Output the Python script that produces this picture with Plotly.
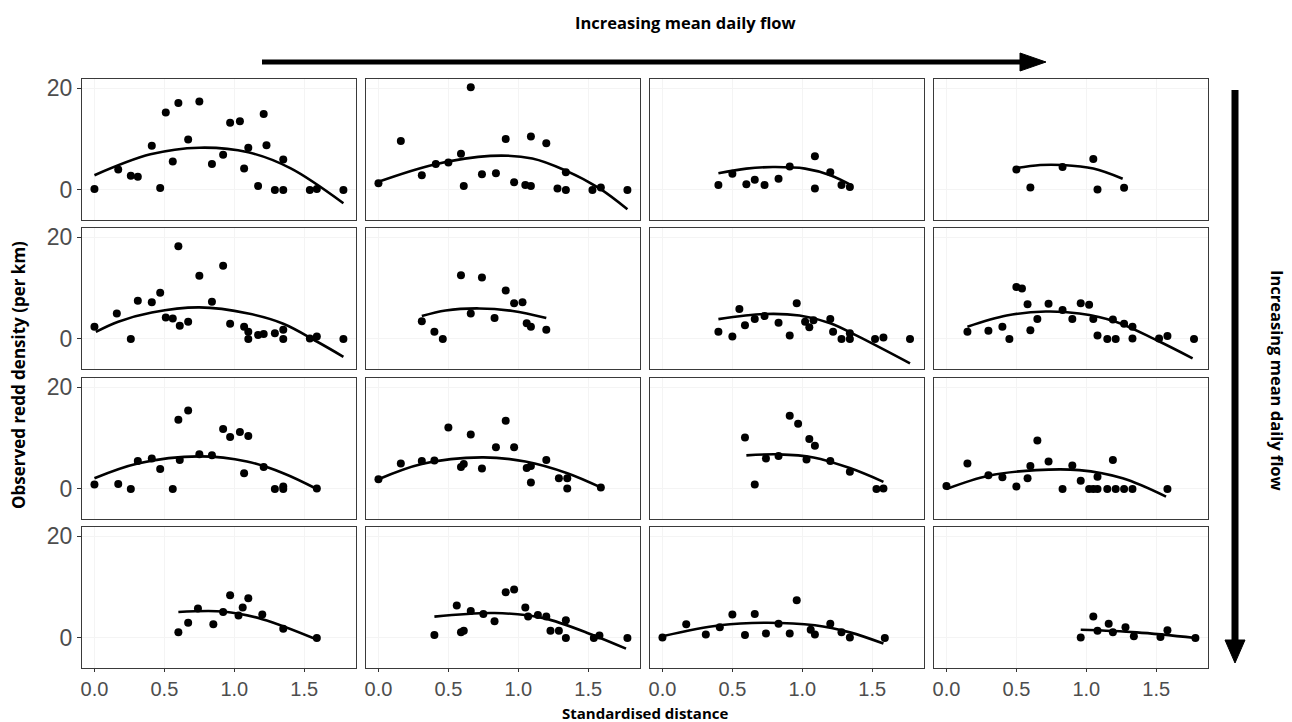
import plotly.graph_objects as go
from plotly.subplots import make_subplots

# ---------------- data ----------------
# Row 1
x_r1c1 = [0.0, 0.17, 0.26, 0.31, 0.41, 0.47, 0.51, 0.56, 0.60, 0.67, 0.75, 0.84, 0.92, 0.97, 1.04, 1.10, 1.07, 1.17, 1.21, 1.23, 1.35, 1.29, 1.35, 1.54, 1.59, 1.78]
y_r1c1 = [0.2, 4.0, 2.8, 2.6, 8.7, 0.4, 15.2, 5.6, 17.1, 9.9, 17.4, 5.1, 6.9, 13.2, 13.5, 8.3, 4.2, 0.8, 14.9, 8.8, 6.0, 0.0, 0.0, 0.0, 0.2, 0.0]
fx_r1c1 = [0.0, 0.4, 0.75, 1.1, 1.4, 1.78]
fy_r1c1 = [2.9, 7.0, 8.3, 7.4, 4.3, -2.6]

x_r1c2 = [0.0, 0.16, 0.31, 0.41, 0.50, 0.59, 0.61, 0.66, 0.74, 0.84, 0.91, 0.97, 1.05, 1.09, 1.09, 1.20, 1.28, 1.34, 1.34, 1.53, 1.59, 1.78]
y_r1c2 = [1.3, 9.6, 2.9, 5.1, 5.4, 7.1, 0.8, 20.2, 3.1, 3.3, 10.0, 1.5, 1.0, 0.8, 10.5, 9.2, 0.3, 0.0, 3.5, 0.0, 0.5, 0.0]
fx_r1c2 = [0.0, 0.4, 0.8, 1.1, 1.34, 1.58, 1.78]
fy_r1c2 = [1.6, 5.0, 6.7, 6.2, 3.8, 0.3, -3.8]

x_r1c3 = [0.40, 0.50, 0.60, 0.66, 0.73, 0.83, 0.91, 1.09, 1.09, 1.20, 1.28, 1.34]
y_r1c3 = [1.0, 3.2, 1.1, 2.0, 1.0, 2.2, 4.6, 6.6, 0.3, 3.5, 1.0, 0.6]
fx_r1c3 = [0.40, 0.60, 0.79, 1.02, 1.20, 1.36]
fy_r1c3 = [3.3, 4.2, 4.5, 4.2, 2.9, 0.8]

x_r1c4 = [0.50, 0.60, 0.83, 1.05, 1.08, 1.27]
y_r1c4 = [4.0, 0.5, 4.5, 6.1, 0.1, 0.45]
fx_r1c4 = [0.50, 0.67, 0.83, 1.05, 1.26]
fy_r1c4 = [4.3, 4.9, 4.9, 4.2, 2.2]

# Row 2
x_r2c1 = [0.0, 0.16, 0.26, 0.31, 0.41, 0.47, 0.51, 0.56, 0.60, 0.61, 0.67, 0.75, 0.84, 0.92, 0.97, 1.07, 1.10, 1.10, 1.17, 1.21, 1.29, 1.35, 1.35, 1.54, 1.59, 1.78]
y_r2c1 = [2.4, 5.0, 0.0, 7.5, 7.2, 9.1, 4.2, 4.0, 18.2, 2.6, 3.4, 12.4, 7.3, 14.4, 3.0, 2.4, 1.4, 0.0, 0.8, 1.0, 1.1, 1.8, 0.0, 0.1, 0.5, 0.0]
fx_r2c1 = [0.01, 0.17, 0.41, 0.75, 1.1, 1.35, 1.59, 1.78]
fy_r2c1 = [1.4, 3.4, 5.2, 6.2, 5.0, 3.0, -0.5, -3.5]

x_r2c2 = [0.31, 0.40, 0.46, 0.59, 0.66, 0.74, 0.83, 0.91, 0.97, 1.03, 1.06, 1.09, 1.20]
y_r2c2 = [3.5, 1.4, 0.0, 12.5, 5.0, 12.1, 4.1, 9.5, 7.0, 7.2, 3.1, 2.4, 1.8]
fx_r2c2 = [0.31, 0.48, 0.72, 0.96, 1.20]
fy_r2c2 = [4.5, 5.6, 6.0, 5.5, 4.1]

x_r2c3 = [0.40, 0.50, 0.55, 0.59, 0.66, 0.73, 0.83, 0.91, 0.96, 1.02, 1.05, 1.08, 1.20, 1.22, 1.28, 1.34, 1.34, 1.52, 1.58, 1.77]
y_r2c3 = [1.4, 0.5, 5.9, 2.7, 3.9, 4.5, 3.2, 0.7, 7.0, 3.4, 2.3, 3.7, 3.9, 1.4, 0.0, 0.0, 1.1, 0.0, 0.3, 0.0]
fx_r2c3 = [0.40, 0.73, 0.98, 1.20, 1.40, 1.77]
fy_r2c3 = [3.9, 4.9, 4.6, 3.1, 0.5, -4.8]

x_r2c4 = [0.15, 0.30, 0.40, 0.45, 0.50, 0.54, 0.58, 0.60, 0.65, 0.73, 0.83, 0.90, 0.96, 1.02, 1.05, 1.08, 1.15, 1.21, 1.19, 1.27, 1.33, 1.33, 1.52, 1.58, 1.77]
y_r2c4 = [1.4, 1.6, 2.4, 0.0, 10.2, 9.9, 6.8, 1.7, 3.9, 6.9, 5.7, 3.9, 7.0, 6.7, 3.9, 0.7, 0.0, 0.0, 3.8, 3.0, 2.4, 0.1, 0.1, 0.6, 0.0]
fx_r2c4 = [0.15, 0.43, 0.71, 0.95, 1.21, 1.50, 1.76]
fy_r2c4 = [2.4, 4.6, 5.4, 5.0, 3.4, -0.2, -3.8]

# Row 3
x_r3c1 = [0.0, 0.17, 0.26, 0.31, 0.41, 0.47, 0.56, 0.60, 0.61, 0.67, 0.75, 0.84, 0.92, 0.97, 1.04, 1.10, 1.07, 1.21, 1.29, 1.35, 1.35, 1.59]
y_r3c1 = [0.9, 1.0, 0.0, 5.5, 6.0, 3.9, 0.0, 13.6, 5.7, 15.4, 6.8, 6.6, 11.8, 10.2, 11.2, 10.4, 3.1, 4.3, 0.0, 0.0, 0.5, 0.1]
fx_r3c1 = [0.0, 0.31, 0.75, 1.09, 1.35, 1.59]
fy_r3c1 = [2.1, 5.0, 6.4, 5.4, 3.1, 0.0]

x_r3c2 = [0.0, 0.16, 0.31, 0.40, 0.50, 0.59, 0.61, 0.66, 0.74, 0.84, 0.91, 0.97, 1.06, 1.09, 1.09, 1.20, 1.29, 1.35, 1.35, 1.59]
y_r3c2 = [1.9, 5.0, 5.5, 5.6, 12.1, 4.3, 4.9, 10.7, 4.0, 8.2, 13.4, 8.2, 4.1, 4.5, 1.25, 5.7, 2.1, 2.1, 0.1, 0.3]
fx_r3c2 = [0.0, 0.31, 0.74, 1.05, 1.35, 1.59]
fy_r3c2 = [1.9, 4.9, 6.2, 5.4, 3.1, 0.3]

x_r3c3 = [0.59, 0.66, 0.74, 0.83, 0.91, 0.97, 1.05, 1.09, 1.03, 1.20, 1.34, 1.53, 1.58]
y_r3c3 = [10.1, 0.9, 6.0, 6.5, 14.4, 12.8, 9.8, 8.5, 5.8, 5.5, 3.4, 0.0, 0.1]
fx_r3c3 = [0.60, 0.83, 1.08, 1.34, 1.58]
fy_r3c3 = [6.6, 6.8, 6.2, 4.1, 1.4]

x_r3c4 = [0.0, 0.15, 0.30, 0.40, 0.50, 0.58, 0.60, 0.65, 0.73, 0.83, 0.90, 0.96, 1.02, 1.05, 1.08, 1.08, 1.15, 1.19, 1.21, 1.27, 1.33, 1.58]
y_r3c4 = [0.6, 5.0, 2.7, 2.3, 0.5, 2.1, 4.5, 9.5, 5.4, 0.0, 4.6, 1.6, 0.0, 0.0, 0.0, 2.4, 0.0, 5.7, 0.0, 0.0, 0.0, 0.0]
fx_r3c4 = [0.0, 0.30, 0.64, 0.95, 1.26, 1.57]
fy_r3c4 = [0.0, 2.6, 3.7, 3.7, 2.1, -1.5]

# Row 4
x_r4c1 = [0.60, 0.67, 0.74, 0.85, 0.92, 0.97, 1.03, 1.06, 1.10, 1.20, 1.35, 1.59]
y_r4c1 = [1.1, 3.0, 5.8, 2.7, 5.1, 8.4, 4.4, 6.0, 7.8, 4.6, 1.8, 0.0]
fx_r4c1 = [0.60, 0.92, 1.20, 1.59]
fy_r4c1 = [5.1, 5.2, 3.7, -0.3]

x_r4c2 = [0.40, 0.56, 0.59, 0.61, 0.66, 0.75, 0.83, 0.91, 0.97, 1.05, 1.07, 1.14, 1.20, 1.23, 1.29, 1.34, 1.34, 1.54, 1.58, 1.78]
y_r4c2 = [0.6, 6.4, 1.1, 1.4, 5.3, 4.7, 3.3, 9.0, 9.5, 6.0, 4.2, 4.5, 4.2, 1.4, 1.4, 3.5, 0.0, 0.0, 0.5, 0.0]
fx_r4c2 = [0.40, 0.83, 1.18, 1.54, 1.77]
fy_r4c2 = [4.2, 4.9, 3.9, 0.5, -2.1]

x_r4c3 = [0.0, 0.17, 0.31, 0.41, 0.50, 0.59, 0.66, 0.74, 0.83, 0.91, 0.96, 1.06, 1.09, 1.20, 1.28, 1.34, 1.59]
y_r4c3 = [0.1, 2.7, 0.7, 2.1, 4.6, 0.6, 4.7, 0.9, 2.8, 0.9, 7.4, 1.6, 0.7, 2.8, 1.1, 0.1, 0.0]
fx_r4c3 = [0.0, 0.41, 0.74, 1.09, 1.34, 1.58]
fy_r4c3 = [0.35, 2.5, 3.0, 2.5, 1.1, -1.1]

x_r4c4 = [0.96, 1.05, 1.08, 1.16, 1.19, 1.28, 1.34, 1.53, 1.58, 1.78]
y_r4c4 = [0.1, 4.2, 1.4, 2.8, 1.1, 2.1, 0.35, 0.2, 1.5, 0.0]
fx_r4c4 = [0.96, 1.36, 1.78]
fy_r4c4 = [1.6, 1.1, 0.0]

panels = [
    [(x_r1c1, y_r1c1, fx_r1c1, fy_r1c1), (x_r1c2, y_r1c2, fx_r1c2, fy_r1c2), (x_r1c3, y_r1c3, fx_r1c3, fy_r1c3), (x_r1c4, y_r1c4, fx_r1c4, fy_r1c4)],
    [(x_r2c1, y_r2c1, fx_r2c1, fy_r2c1), (x_r2c2, y_r2c2, fx_r2c2, fy_r2c2), (x_r2c3, y_r2c3, fx_r2c3, fy_r2c3), (x_r2c4, y_r2c4, fx_r2c4, fy_r2c4)],
    [(x_r3c1, y_r3c1, fx_r3c1, fy_r3c1), (x_r3c2, y_r3c2, fx_r3c2, fy_r3c2), (x_r3c3, y_r3c3, fx_r3c3, fy_r3c3), (x_r3c4, y_r3c4, fx_r3c4, fy_r3c4)],
    [(x_r4c1, y_r4c1, fx_r4c1, fy_r4c1), (x_r4c2, y_r4c2, fx_r4c2, fy_r4c2), (x_r4c3, y_r4c3, fx_r4c3, fy_r4c3), (x_r4c4, y_r4c4, fx_r4c4, fy_r4c4)],
]

x_ticks = [0.0, 0.5, 1.0, 1.5]
x_tick_labels = ["0.0", "0.5", "1.0", "1.5"]
y_ticks = [0, 20]
y_tick_labels = ["0", "20"]

x_title = "Standardised distance"
y_title = "Observed redd density (per km)"
flow_title = "Increasing mean daily flow"

# ---------------- layout geometry (pixels) ----------------
W, H = 1292, 722
ML, MR, MT, MB = 82, 84, 79, 54
PW, PH = W - ML - MR, H - MT - MB
col_left = [82, 366, 650, 934]
col_w = 274
row_top = [79, 228, 378, 527]
row_h = 141

def px2x(px):
    return (px - ML) / PW

def py2y(py):
    return (H - MB - py) / PH

fig = make_subplots(rows=4, cols=4)

for r in range(4):
    for c in range(4):
        xs, ys, fxs, fys = panels[r][c]
        fig.add_trace(go.Scatter(x=xs, y=ys, mode="markers",
                                 marker=dict(color="black", size=8),
                                 showlegend=False, hoverinfo="skip"),
                      row=r + 1, col=c + 1)
        fig.add_trace(go.Scatter(x=fxs, y=fys, mode="lines",
                                 line=dict(color="black", width=2.6, shape="spline", smoothing=1.0),
                                 showlegend=False, hoverinfo="skip"),
                      row=r + 1, col=c + 1)
        n = r * 4 + c + 1
        sfx = "" if n == 1 else str(n)
        xd = [px2x(col_left[c]), px2x(col_left[c] + col_w)]
        yd = [py2y(row_top[r] + row_h), py2y(row_top[r])]
        fig.layout["xaxis" + sfx].update(
            domain=xd, range=[-0.089, 1.87],
            tickvals=x_ticks, ticktext=x_tick_labels,
            showticklabels=(r == 3), ticks="outside" if r == 3 else "",
            ticklen=3, tickcolor="#333333", tickwidth=1,
            showline=True, mirror=True, linecolor="#3a3a3a", linewidth=1.3,
            showgrid=True, gridcolor="#F4F4F4", gridwidth=1,
            zeroline=False,
            tickfont=dict(family="Liberation Sans, Arial", size=20, color="#4D4D4D"),
        )
        fig.layout["yaxis" + sfx].update(
            domain=yd, range=[-5.9, 21.8],
            tickvals=y_ticks, ticktext=y_tick_labels,
            showticklabels=(c == 0), ticks="outside" if c == 0 else "",
            ticklen=4, tickcolor="#333333", tickwidth=1,
            showline=True, mirror=True, linecolor="#3a3a3a", linewidth=1.3,
            showgrid=True, gridcolor="#F4F4F4", gridwidth=1,
            zeroline=False,
            tickfont=dict(family="Liberation Sans, Arial", size=23, color="#4D4D4D"),
        )

title_font = dict(family="Open Sans, Lato, sans-serif", color="black")

annotations = [
    dict(text="<b>" + x_title + "</b>", x=px2x(645), y=py2y(713), xref="paper", yref="paper",
         showarrow=False, font=dict(size=15, **title_font), xanchor="center", yanchor="middle"),
    dict(text="<b>" + y_title + "</b>", x=px2x(18), y=py2y(375), xref="paper", yref="paper",
         showarrow=False, textangle=-90, font=dict(size=17, **title_font), xanchor="center", yanchor="middle"),
    dict(text="<b>" + flow_title + "</b>", x=px2x(685), y=py2y(22), xref="paper", yref="paper",
         showarrow=False, font=dict(size=16.5, **title_font), xanchor="center", yanchor="middle"),
    dict(text="<b>" + flow_title + "</b>", x=px2x(1278), y=py2y(380), xref="paper", yref="paper",
         showarrow=False, textangle=90, font=dict(size=16.5, **title_font), xanchor="center", yanchor="middle"),
]

shapes = [
    # horizontal arrow
    dict(type="line", xref="paper", yref="paper", x0=px2x(262), x1=px2x(1025), y0=py2y(62), y1=py2y(62),
         line=dict(color="black", width=5)),
    dict(type="path", xref="paper", yref="paper",
         path=f"M {px2x(1020)} {py2y(53)} L {px2x(1046)} {py2y(62)} L {px2x(1020)} {py2y(71)} Z",
         fillcolor="black", line=dict(color="black", width=1)),
    # vertical arrow
    dict(type="line", xref="paper", yref="paper", x0=px2x(1235), x1=px2x(1235), y0=py2y(90), y1=py2y(645),
         line=dict(color="black", width=7)),
    dict(type="path", xref="paper", yref="paper",
         path=f"M {px2x(1225)} {py2y(640)} L {px2x(1245)} {py2y(640)} L {px2x(1235)} {py2y(663)} Z",
         fillcolor="black", line=dict(color="black", width=1)),
]

fig.update_layout(
    width=W, height=H,
    margin=dict(l=ML, r=MR, t=MT, b=MB),
    paper_bgcolor="white", plot_bgcolor="white",
    annotations=annotations, shapes=shapes,
    showlegend=False,
)

fig.write_html("out.html")
